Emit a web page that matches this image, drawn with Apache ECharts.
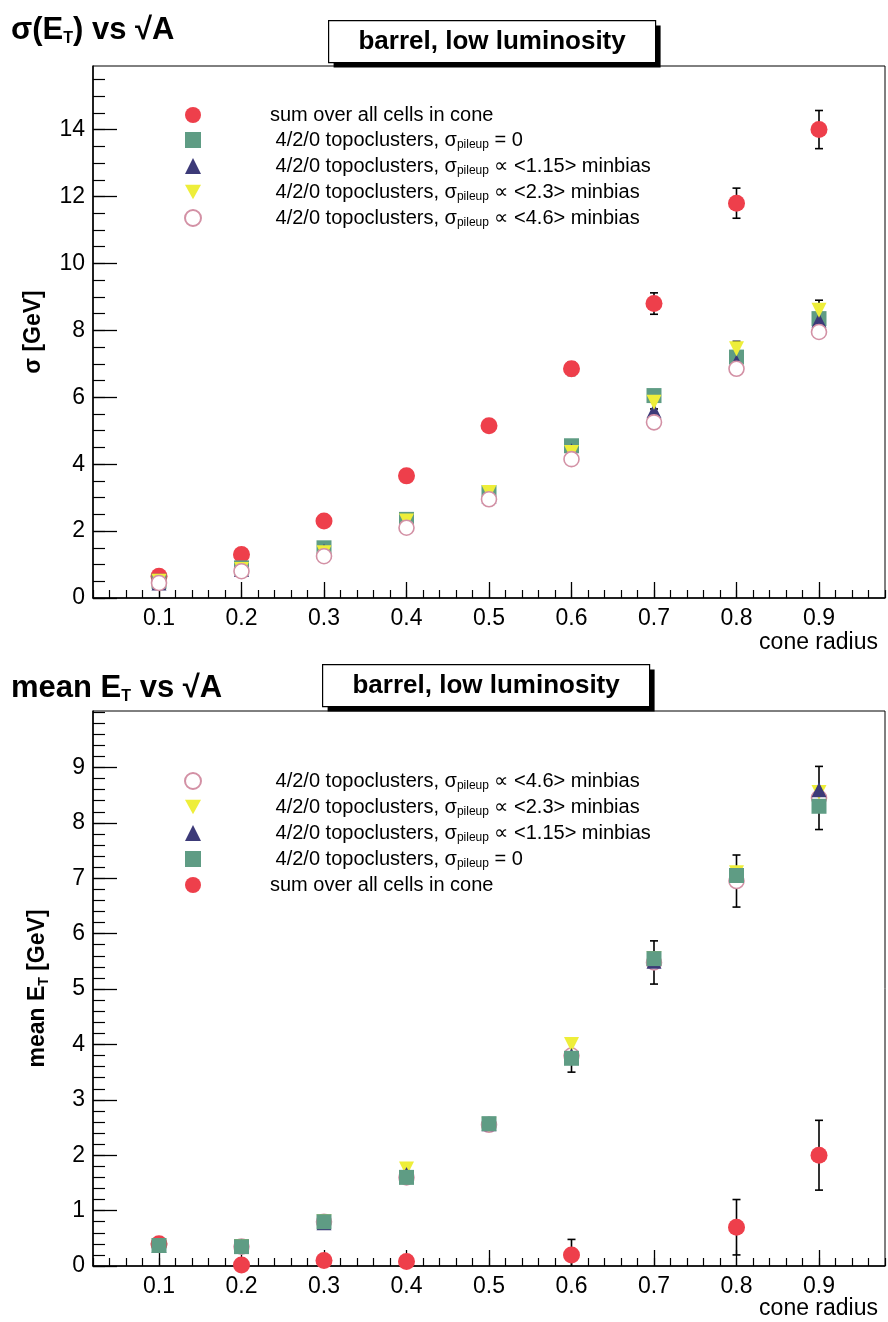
<!DOCTYPE html>
<html><head><meta charset="utf-8">
<script src="https://cdn.jsdelivr.net/npm/echarts@6/dist/echarts.min.js"></script>
<style>html,body{margin:0;padding:0;background:#fff}#c{width:888px;height:1322px}</style>
</head><body><div id="c"></div>
<script>
// ---------- data ----------
const radius = [0.1, 0.2, 0.3, 0.4, 0.5, 0.6, 0.7, 0.8, 0.9];

// top panel: sigma(E_T) [GeV]
const sigSum   = [0.65, 1.3, 2.3, 3.65, 5.15, 6.85, 8.8, 11.8, 14.0];
const sigSumErr= [0.05, 0.07, 0.1, 0.12, 0.15, 0.2, 0.32, 0.45, 0.57];
const sigTopo0 = [0.5, 0.9, 1.5, 2.35, 3.15, 4.55, 6.05, 7.2, 8.35];
const sigTopo115 = [0.45, 0.85, 1.4, 2.25, 3.05, 4.4, 5.6, 7.05, 8.3];
const sigTopo23  = [0.5, 0.85, 1.35, 2.3, 3.15, 4.35, 5.85, 7.45, 8.6];
const sigTopo23Err = [0.03, 0.05, 0.07, 0.09, 0.11, 0.15, 0.2, 0.22, 0.3];
const sigTopo46  = [0.45, 0.8, 1.25, 2.1, 2.95, 4.15, 5.25, 6.85, 7.95];

// bottom panel: mean E_T [GeV]
const meanSum    = [0.4, 0.02, 0.1, 0.08, -0.2, 0.2, -0.2, 0.7, 2.0];
const meanSumErr = [0.03, 0.03, 0.05, 0.06, 0, 0.28, 0, 0.5, 0.63];
const meanTopo0  = [0.37, 0.35, 0.8, 1.6, 2.57, 3.75, 5.55, 7.05, 8.3];
const meanTopo115 = [0.37, 0.35, 0.78, 1.65, 2.57, 3.8, 5.5, 7.05, 8.6];
const meanTopo23  = [0.37, 0.35, 0.8, 1.75, 2.55, 4.0, 5.55, 7.1, 8.55];
const meanTopo46  = [0.38, 0.35, 0.8, 1.6, 2.55, 3.8, 5.48, 6.95, 8.45];
const meanTopo46Err = [0.03, 0.03, 0.05, 0.07, 0.1, 0.3, 0.39, 0.47, 0.57];

// ticks
const xMajor = [0.1, 0.2, 0.3, 0.4, 0.5, 0.6, 0.7, 0.8, 0.9];
const xMinor = Array.from({length: 49}, (_, i) => +((i + 1) * 0.02).toFixed(2));
const sigMajor = [0, 2, 4, 6, 8, 10, 12, 14];
const sigMinor = Array.from({length: 32}, (_, i) => i * 0.5);
const meanMajor = [0, 1, 2, 3, 4, 5, 6, 7, 8, 9];
const meanMinor = Array.from({length: 51}, (_, i) => +(i * 0.2).toFixed(1));

// ---------- names ----------
const N_SUM = 'sum over all cells in cone';
const N_T0 = 'topo0', N_T115 = 'topo115', N_T23 = 'topo23', N_T46 = 'topo46';
const legendText = {
  [N_SUM]: 'sum over all cells in cone',
  [N_T0]: ' 4/2/0 topoclusters, σ{sub|pileup} = 0',
  [N_T115]: ' 4/2/0 topoclusters, σ{sub|pileup} ∝ <1.15> minbias',
  [N_T23]: ' 4/2/0 topoclusters, σ{sub|pileup} ∝ <2.3> minbias',
  [N_T46]: ' 4/2/0 topoclusters, σ{sub|pileup} ∝ <4.6> minbias'
};

const C_RED = '#ee3f4b', C_GREEN = '#5f9c84', C_NAVY = '#3c3a78', C_YEL = '#eeee3a', C_PINK = '#d391a5';
const FONT = 'Liberation Sans, Arial, sans-serif';
const DOWN_TRI = 'path://M0,0 L10,0 L5,9 Z';

function pts(vals) { return radius.map((r, i) => [r, vals[i]]); }
function errPts(vals, errs) { return radius.map((r, i) => [r, vals[i], errs[i]]); }

function errSeries(xi, yi, vals, errs) {
  return {
    type: 'custom', xAxisIndex: xi, yAxisIndex: yi, z: 1, clip: true, silent: true,
    encode: {x: 0, y: 1},
    data: errPts(vals, errs),
    renderItem: function (params, api) {
      const x = api.value(0), y = api.value(1), e = api.value(2);
      if (!e) return null;
      const hi = api.coord([x, y + e]), lo = api.coord([x, y - e]);
      const w = 4, st = {stroke: '#000', lineWidth: 1.6};
      return {type: 'group', children: [
        {type: 'line', shape: {x1: hi[0], y1: hi[1], x2: lo[0], y2: lo[1]}, style: st},
        {type: 'line', shape: {x1: hi[0] - w, y1: hi[1], x2: hi[0] + w, y2: hi[1]}, style: st},
        {type: 'line', shape: {x1: lo[0] - w, y1: lo[1], x2: lo[0] + w, y2: lo[1]}, style: st}
      ]};
    }
  };
}

function sc(name, xi, yi, vals, sym, size, color, extra) {
  return Object.assign({
    type: 'scatter', name: name, xAxisIndex: xi, yAxisIndex: yi, clip: true,
    symbol: sym, symbolSize: size, data: pts(vals),
    itemStyle: {color: color, opacity: 1}, z: 3
  }, extra || {});
}
const openCircle = {itemStyle: {color: '#fff', borderColor: C_PINK, borderWidth: 1.6, opacity: 1}};

function xAxes(gi) {
  return [
    {type: 'value', gridIndex: gi, position: 'bottom', min: 0.02, max: 0.98,
     axisLine: {show: true, onZero: false, lineStyle: {color: '#000', width: 1.5}},
     axisTick: {show: true, inside: true, length: 16, customValues: xMajor, lineStyle: {color: '#000', width: 1.3}},
     axisLabel: {show: true, customValues: xMajor, formatter: v => v.toFixed(1), fontSize: 23, color: '#000', fontFamily: FONT, margin: 9},
     splitLine: {show: false}},
    {type: 'value', gridIndex: gi, position: 'bottom', min: 0.02, max: 0.98,
     axisLine: {show: false, onZero: false},
     axisTick: {show: true, inside: true, length: 8, customValues: xMinor, lineStyle: {color: '#000', width: 1.2}},
     axisLabel: {show: false}, splitLine: {show: false}}
  ];
}
function yAxes(gi, max, major, minor, name, gap) {
  return [
    {type: 'value', gridIndex: gi, position: 'left', min: 0, max: max,
     axisLine: {show: true, onZero: false, lineStyle: {color: '#000', width: 1.5}},
     axisTick: {show: true, inside: true, length: 24, customValues: major, lineStyle: {color: '#000', width: 1.3}},
     axisLabel: {show: true, customValues: major, fontSize: 23, color: '#000', fontFamily: FONT, margin: 8},
     splitLine: {show: false},
     name: name, nameLocation: 'middle', nameGap: gap, nameRotate: 90,
     nameTextStyle: {fontSize: 23, fontWeight: 'bold', color: '#000', fontFamily: FONT,
       rich: {sub: {fontSize: 14, fontWeight: 'bold', padding: [12, 0, 0, 0], fontFamily: FONT}}}},
    {type: 'value', gridIndex: gi, position: 'left', min: 0, max: max,
     axisLine: {show: false, onZero: false},
     axisTick: {show: true, inside: true, length: 12, customValues: minor, lineStyle: {color: '#000', width: 1.2}},
     axisLabel: {show: false}, splitLine: {show: false}}
  ];
}

function legendCfg(top, names) {
  return {
    orient: 'vertical', left: 179, top: top, itemWidth: 16, itemHeight: 16, itemGap: 5,
    selectedMode: false, data: names,
    formatter: n => legendText[n],
    textStyle: {fontSize: 20, color: '#000', fontFamily: FONT, padding: [0, 0, 0, 64],
      rich: {sub: {fontSize: 12, padding: [10, 0, 0, 0], fontFamily: FONT}}}
  };
}

function titleBox(x, y, w, h) {
  return {type: 'group', left: x, top: y, children: [
    {type: 'rect', shape: {x: 5, y: 5, width: w, height: h}, style: {fill: '#000'}},
    {type: 'rect', shape: {x: 0, y: 0, width: w, height: h}, style: {fill: '#fff', stroke: '#000', lineWidth: 1.2}},
    {type: 'text', x: w / 2, y: h / 2, style: {text: 'barrel, low luminosity', fill: '#000', font: 'bold 26px ' + FONT, align: 'center', verticalAlign: 'middle'}}
  ]};
}

const mainTitleStyle = {fontSize: 31, fontWeight: 'bold', color: '#000', fontFamily: FONT,
  rich: {sub: {fontSize: 16, fontWeight: 'bold', padding: [18, 0, 0, 0], fontFamily: FONT}}};

const option = {
  animation: false,
  backgroundColor: '#fff',
  title: [
    {text: 'σ(E{sub|T}) vs √A', left: 6, top: 8, textStyle: mainTitleStyle},
    {text: 'mean E{sub|T} vs √A', left: 6, top: 666, textStyle: mainTitleStyle},
    {text: 'cone radius', right: 5, top: 626, textStyle: {fontSize: 23, fontWeight: 'normal', color: '#000', fontFamily: FONT}},
    {text: 'cone radius', right: 5, top: 1292, textStyle: {fontSize: 23, fontWeight: 'normal', color: '#000', fontFamily: FONT}}
  ],
  grid: [
    {left: 93, top: 66, width: 792, height: 532, show: true, borderColor: '#000', borderWidth: 1, backgroundColor: 'transparent'},
    {left: 93, top: 711, width: 792, height: 555, show: true, borderColor: '#000', borderWidth: 1, backgroundColor: 'transparent'}
  ],
  xAxis: [...xAxes(0), ...xAxes(1)],
  yAxis: [...yAxes(0, 15.9, sigMajor, sigMinor, 'σ [GeV]', 48),
          ...yAxes(1, 10.02, meanMajor, meanMinor, 'mean E{sub|T} [GeV]', 42)],
  legend: [
    legendCfg(100, [N_SUM, N_T0, N_T115, N_T23, N_T46]),
    legendCfg(766, [N_T46, N_T23, N_T115, N_T0, N_SUM])
  ],
  graphic: [titleBox(328, 20, 327, 42), titleBox(322, 664, 327, 42)],
  series: [
    // top panel
    errSeries(0, 0, sigSum, sigSumErr),
    errSeries(0, 0, sigTopo23, sigTopo23Err),
    sc(N_SUM, 0, 0, sigSum, 'circle', 17, C_RED),
    sc(N_T0, 0, 0, sigTopo0, 'rect', 15, C_GREEN),
    sc(N_T115, 0, 0, sigTopo115, 'triangle', 15, C_NAVY),
    sc(N_T23, 0, 0, sigTopo23, DOWN_TRI, 15, C_YEL),
    sc(N_T46, 0, 0, sigTopo46, 'circle', 15, C_PINK, openCircle),
    // bottom panel
    errSeries(2, 2, meanSum, meanSumErr),
    errSeries(2, 2, meanTopo46, meanTopo46Err),
    sc(N_T46, 2, 2, meanTopo46, 'circle', 15, C_PINK, openCircle),
    sc(N_T23, 2, 2, meanTopo23, DOWN_TRI, 15, C_YEL),
    sc(N_T115, 2, 2, meanTopo115, 'triangle', 15, C_NAVY),
    sc(N_SUM, 2, 2, meanSum, 'circle', 17, C_RED),
    sc(N_T0, 2, 2, meanTopo0, 'rect', 15, C_GREEN)
  ]
};

const chart = echarts.init(document.getElementById('c'), null, {renderer: 'canvas'});
chart.setOption(option);
</script>
</body></html>
